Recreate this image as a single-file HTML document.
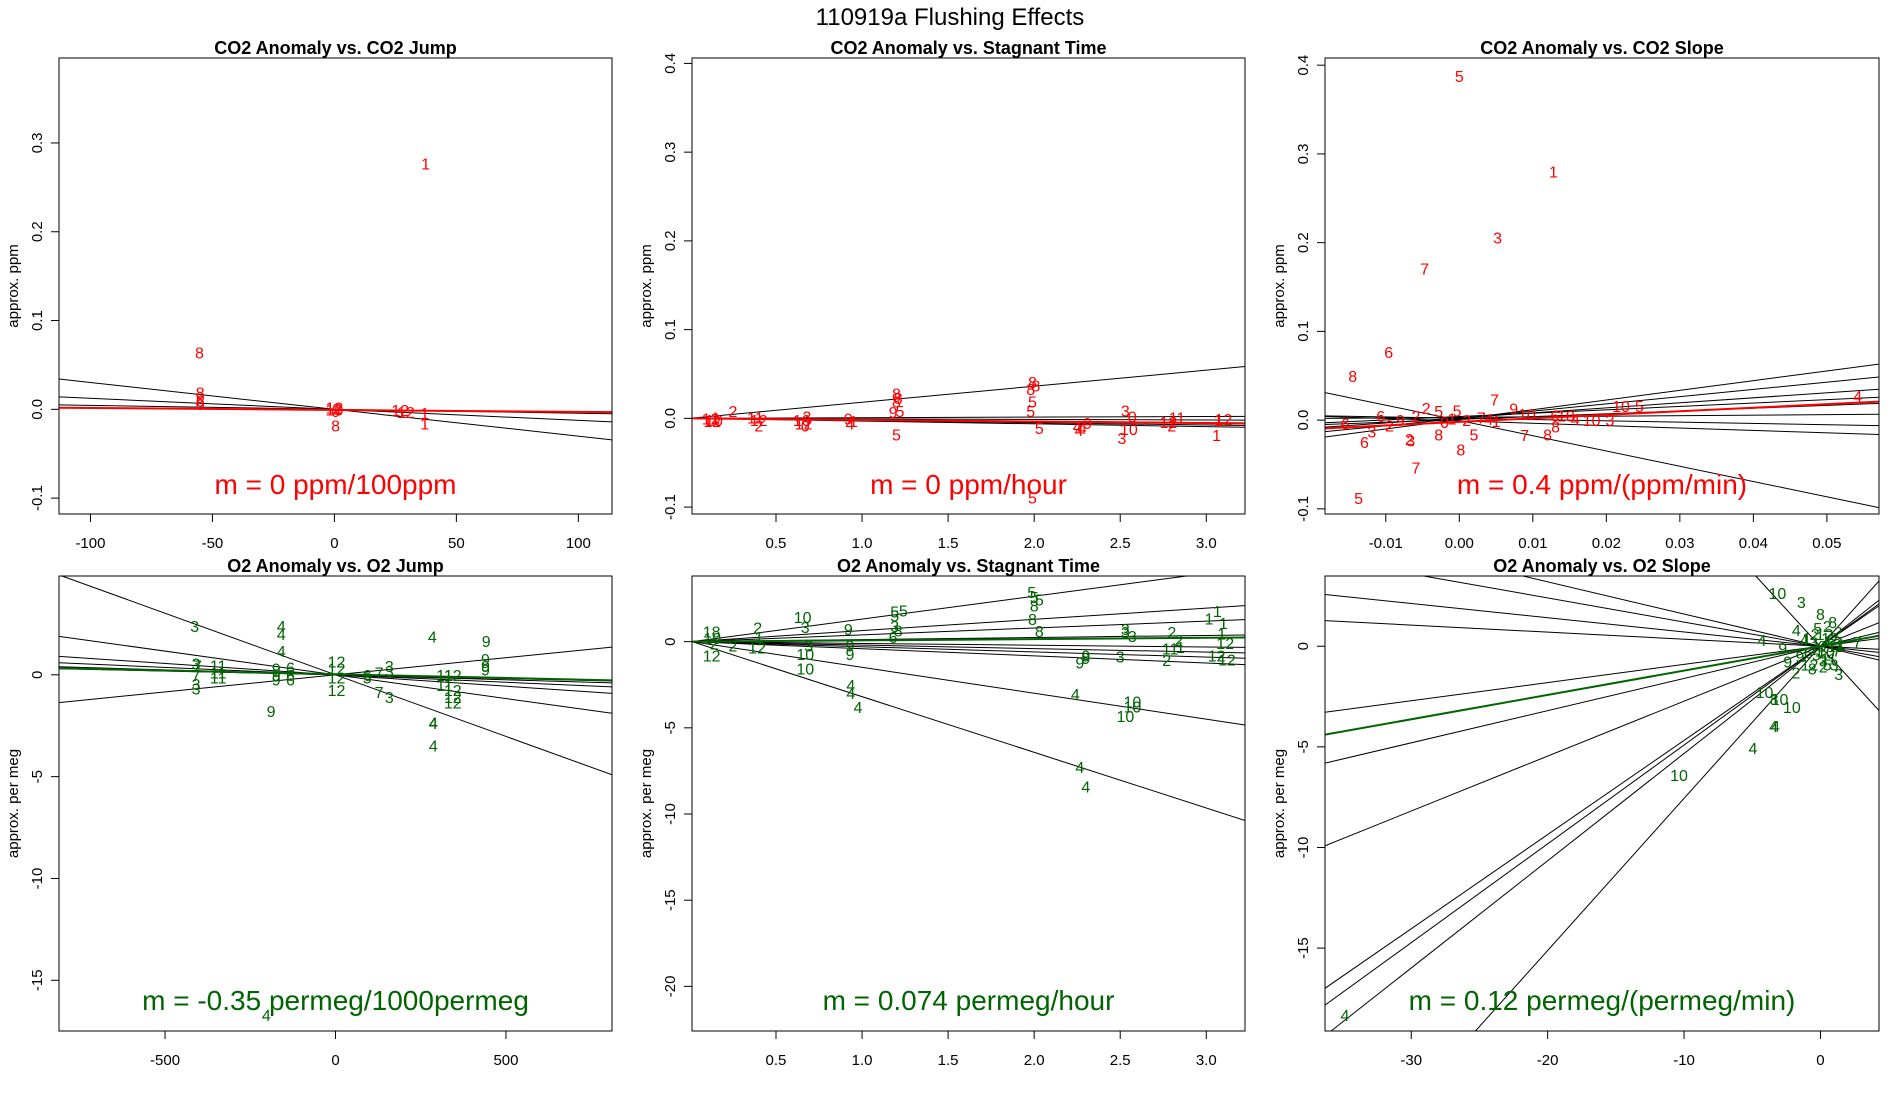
<!DOCTYPE html>
<html><head><meta charset="utf-8"><title>110919a Flushing Effects</title>
<style>
html,body{margin:0;padding:0;background:#fff;width:1900px;height:1100px;overflow:hidden;}
svg{display:block;font-family:"Liberation Sans",Arial,sans-serif;overflow:hidden;}
</style></head>
<body>
<svg id="chart" width="1900" height="1100" viewBox="0 0 1900 1100" xmlns="http://www.w3.org/2000/svg">
<rect x="0" y="0" width="1900" height="1100" fill="#fff"/>
<text x="950" y="25" font-size="24" text-anchor="middle">110919a   Flushing Effects</text>
</svg>
<script>
// ---------- Panel 1: CO2 Anomaly vs CO2 Jump ----------
const p1Labels = ["1","8","8","9","6","0","12","10","0","2","8","12","12","1","1"];
const p1X = [37.4,-55.3,-55,-55,-55,-55,0,0,0.5,1,0.5,27,29.3,37,37];
const p1Y = [0.277,0.064,0.019,0.014,0.010,0.006,0.002,0.0,-0.002,0.001,-0.0185,-0.001,-0.003,-0.004,-0.016];
const p1Slopes = [-0.000302,-0.000124,-0.000044];
const p1Intercepts = [0,0,0];
const p1Fit = [-0.0007,-0.000022];
const p1XTicks = [-100,-50,0,50,100];
const p1XTickLabels = ["-100","-50","0","50","100"];
const p1YTicks = [-0.1,0,0.1,0.2,0.3];
const p1YTickLabels = ["-0.1","0.0","0.1","0.2","0.3"];

// ---------- Panel 2: CO2 Anomaly vs Stagnant Time ----------
const p2Labels = ["12","10","1","12","2","11","12","2","10","12","3","0","9","4","1","8","8","8","5","9","5","8","8","8","5","5","5","5","4","4","9","4","3","0","10","3","11","2","12","1","12","1"];
const p2X = [0.12,0.14,0.15,0.13,0.25,0.38,0.40,0.40,0.65,0.66,0.68,0.67,0.92,0.93,0.95,1.20,1.21,1.20,1.22,1.18,1.20,1.99,2.01,1.98,1.99,2.03,1.98,1.99,2.25,2.28,2.31,2.26,2.53,2.57,2.55,2.51,2.83,2.80,2.78,3.07,3.10,3.06];
const p2Y = [0.0,-0.002,0.001,-0.003,0.008,0.001,-0.002,-0.008,-0.002,-0.006,0.002,-0.008,0.0,-0.006,-0.003,0.028,0.023,0.019,0.008,0.007,-0.018,0.041,0.037,0.033,0.019,-0.011,0.008,-0.089,-0.009,-0.011,-0.005,-0.013,0.009,0.002,-0.012,-0.022,0.001,-0.008,-0.004,-0.002,-0.001,-0.019];
const p2Slopes = [0.0181,0.0007,-0.0006,-0.0016,-0.0025,-0.0031];
const p2Intercepts = [0,0,0,0,0,0];
const p2Fit = [0,-0.0018];
const p2XTicks = [0.5,1.0,1.5,2.0,2.5,3.0];
const p2XTickLabels = ["0.5","1.0","1.5","2.0","2.5","3.0"];
const p2YTicks = [-0.1,0,0.1,0.2,0.3,0.4];
const p2YTickLabels = ["-0.1","0.0","0.1","0.2","0.3","0.4"];

// ---------- Panel 3: CO2 Anomaly vs CO2 Slope ----------
const p3Labels = ["5","1","3","7","6","8","7","10","5","4","7","5","8","6","2","3","8","8","7","6","3","2","9","2","6","5","5","1","0","2","7","1","10","6","10","4","10","3","8","9","4","2","5"];
const p3X = [0.0,0.0128,0.0052,-0.0047,-0.0096,-0.0145,0.0048,0.022,0.0245,0.0542,-0.0059,-0.0137,0.0002,-0.0129,-0.0068,-0.0066,-0.0028,0.012,0.0089,-0.0155,-0.0119,-0.0045,0.0074,-0.0059,-0.0107,-0.0028,-0.0003,-0.001,-0.002,0.001,0.003,0.005,0.0092,0.013,0.0145,0.0158,0.018,0.0205,0.0131,-0.008,0.004,-0.0095,0.002];
const p3Y = [0.388,0.280,0.206,0.171,0.077,0.050,0.023,0.016,0.016,0.027,-0.0535,-0.0877,-0.0333,-0.0245,-0.021,-0.023,-0.016,-0.016,-0.017,-0.004,-0.013,0.0137,0.013,0.0047,0.0047,0.010,0.011,0.002,-0.002,0.0,0.003,-0.001,0.007,0.005,0.005,0.001,0.0,0.0,-0.007,0.0,0.001,-0.006,-0.016];
const p3Slopes = [-1.721,1.089,0.817,0.566,0.381,0.316,0.062,-0.146,-0.269];
const p3Intercepts = [-0.0004,0.0009,0.0019,0.0025,0.004,0.0008,0.0031,0.0021,-0.0009];
const p3Fit = [-0.002,0.4];
const p3XTicks = [-0.01,0,0.01,0.02,0.03,0.04,0.05];
const p3XTickLabels = ["-0.01","0.00","0.01","0.02","0.03","0.04","0.05"];
const p3YTicks = [-0.1,0,0.1,0.2,0.3,0.4];
const p3YTickLabels = ["-0.1","0.0","0.1","0.2","0.3","0.4"];

// ---------- Panel 4: O2 Anomaly vs O2 Jump ----------
const p4Labels = ["3","4","4","4","4","9","9","9","9","3","7","7","3","3","11","11","11","9","9","9","6","6","6","12","12","12","12","6","5","7","7","3","3","3","4","4","4","11","11","12","12","12","12","9","4"];
const p4X = [-413,-159,-159,-159,284,442,440,440,440,-409,-405,-409,-409,-409,-344,-344,-344,-174,-174,-174,-132,-132,-132,3,3,3,3,93,93,128,128,158,158,158,287,287,287,320,320,344,344,344,344,-189,-203];
const p4Y = [2.40,2.40,2.01,1.17,1.87,1.66,0.78,0.43,0.26,0.56,0.47,-0.02,-0.46,-0.67,0.47,0.12,-0.14,0.30,-0.02,-0.23,0.35,0.0,-0.23,0.65,0.30,-0.14,-0.75,0.0,-0.14,0.12,-0.84,0.44,0.2,-1.1,-2.33,-2.37,-3.47,0.0,-0.49,-0.02,-0.75,-1.1,-1.37,-1.77,-16.7];
const p4Slopes = [-0.00605,-0.00233,-0.00112,-0.00073,-0.00049,-0.00037,0.00168];
const p4Intercepts = [0,0,0,0,0,0,0];
const p4Fit = [0.03,-0.00037];
const p4XTicks = [-500,0,500];
const p4XTickLabels = ["-500","0","500"];
const p4YTicks = [-15,-10,-5,0];
const p4YTickLabels = ["-15","-10","-5","0"];

// ---------- Panel 5: O2 Anomaly vs Stagnant Time ----------
const p5Labels = ["5","5","5","8","8","8","5","5","5","3","8","6","10","3","9","9","9","10","10","3","2","1","12","18","10","2","12","2","4","4","4","4","4","4","10","10","10","9","9","9","3","3","3","3","2","2","1","11","2","1","1","1","1","12","12","12"];
const p5X = [1.986,2.0,2.03,2.0,1.99,2.03,1.19,1.19,1.24,1.19,1.21,1.18,0.655,0.67,0.92,0.93,0.93,0.67,0.67,0.69,0.394,0.40,0.39,0.126,0.13,0.14,0.126,0.25,0.935,0.935,0.976,2.239,2.265,2.30,2.571,2.571,2.53,2.3,2.3,2.265,2.53,2.53,2.57,2.50,2.80,2.84,2.85,2.79,2.77,3.064,3.016,3.10,3.09,3.11,3.06,3.12];
const p5Y = [2.88,2.6,2.44,2.1,1.31,0.63,1.74,1.53,1.8,0.90,0.65,0.28,1.43,0.85,0.74,-0.23,-0.71,-0.71,-1.57,-0.23,0.81,0.28,-0.33,0.6,0.2,-0.1,-0.79,-0.23,-2.51,-2.99,-3.80,-3.03,-7.27,-8.41,-3.48,-3.75,-4.31,-0.79,-0.96,-1.2,0.73,0.57,0.33,-0.85,0.57,0.09,-0.31,-0.39,-1.07,1.78,1.33,1.08,0.46,-0.08,-0.79,-1.03];
const p5Slopes = [1.326,0.651,0.399,0.121,-0.103,-0.202,-0.299,-0.414,-1.505,-3.23];
const p5Intercepts = [-0.016,-0.008,-0.005,-0.001,0.001,0.002,0.004,0.005,0.018,0.039];
const p5Fit = [0,0.074];
const p5XTicks = [0.5,1.0,1.5,2.0,2.5,3.0];
const p5XTickLabels = ["0.5","1.0","1.5","2.0","2.5","3.0"];
const p5YTicks = [-20,-15,-10,-5,0];
const p5YTickLabels = ["-20","-15","-10","-5","0"];

// ---------- Panel 6: O2 Anomaly vs O2 Slope ----------
const p6Labels = ["10","3","4","4","9","9","2","7","3","10","8","10","10","4","4","4","10","4","8","2","12","1","3","6","5","11","7","2","12","3","9","6","1","4","10","5","8","2","8","3","1","12","6","11","2","5"];
const p6X = [-3.16,-1.4,-4.29,-1.77,-2.77,-2.4,-1.8,2.7,1.34,-4.1,-3.4,-3.0,-2.1,-3.44,-3.3,-4.95,-10.37,-34.86,0.0,0.5,0.3,-1.0,-0.5,0.8,-0.3,0.6,1.2,0.2,-0.8,1.0,-1.5,0.1,1.5,-1.2,0.4,-0.2,-0.6,1.3,0.9,0.2,-0.1,0.7,-0.9,1.1,-0.4,0.5];
const p6Y = [2.64,2.21,0.30,0.8,-0.1,-0.76,-1.3,0.21,-1.38,-2.27,-2.63,-2.63,-3.02,-3.96,-3.96,-5.06,-6.4,-18.32,1.6,1.0,0.6,0.4,0.2,0.3,-0.4,-0.6,-0.2,-1.0,-0.9,-0.9,-0.5,0.0,0.1,0.3,-0.3,0.9,-1.1,0.7,1.2,-0.7,-0.2,0.4,-0.3,0.0,0.6,-0.9];
const p6Slopes = [-0.74,-0.12,-0.16,-0.0708,-0.035,0.0903,0.160,0.273,0.468,0.491,0.533,0.756];
const p6Intercepts = [-0.02,0,0,0,0,0,0,0,0,0,0,0];
const p6Fit = [0,0.121];
const p6XTicks = [-30,-20,-10,0];
const p6XTickLabels = ["-30","-20","-10","0"];
const p6YTicks = [-15,-10,-5,0];
const p6YTickLabels = ["-15","-10","-5","0"];

const NS = "http://www.w3.org/2000/svg";
const svg = document.getElementById("chart");
function mk(tag, attrs, parent) {
  const e = document.createElementNS(NS, tag);
  for (const k in attrs) e.setAttribute(k, attrs[k]);
  (parent || svg).appendChild(e);
  return e;
}

// clip line y=b+m*x to the domain rectangle; returns [x0,y0,x1,y1] in data units
function clipLine(b, m, xd, yd) {
  let x0 = xd[0], x1 = xd[1];
  if (m !== 0) {
    let xa = (yd[0] - b) / m, xb = (yd[1] - b) / m;
    const lo = Math.min(xa, xb), hi = Math.max(xa, xb);
    x0 = Math.max(x0, lo); x1 = Math.min(x1, hi);
  }
  if (x1 <= x0) return null;
  return [x0, b + m * x0, x1, b + m * x1];
}

function drawPanel(cfg) {
  const g = mk("g", {});
  
  
  const L = cfg.box[0], R = cfg.box[1], T = cfg.box[2], B = cfg.box[3];
  const sx = v => L + (v - cfg.xd[0]) / (cfg.xd[1] - cfg.xd[0]) * (R - L);
  const sy = v => B - (v - cfg.yd[0]) / (cfg.yd[1] - cfg.yd[0]) * (B - T);
  const clipId = cfg.name + "-clip";
  const defs = mk("defs", {}, g);
  const cp = mk("clipPath", {id: clipId}, defs);
  mk("rect", {x: L, y: T, width: R - L, height: B - T}, cp);

  const t = mk("text", {x: (L + R) / 2, y: T - 4, "font-size": 18, "font-weight": "bold", "text-anchor": "middle"}, g);
  t.textContent = cfg.title;
  
  

  const yl = mk("text", {x: 0, y: 0, "font-size": 15, "text-anchor": "middle", transform: "translate(" + (L - 41) + "," + ((T + B) / 2) + ") rotate(-90)"}, g);
  yl.textContent = cfg.ylabel;
  
  

  const xa = mk("g", {}, g);
  
  
  cfg.xt.forEach((v, i) => {
    const x = sx(v);
    mk("line", {x1: x, x2: x, y1: B, y2: B + 8, stroke: "#000", "stroke-width": 1}, xa);
    const tl = mk("text", {x: x, y: B + 34, "font-size": 15, "text-anchor": "middle"}, xa);
    tl.textContent = cfg.xtl[i];
    
    
  });
  const ya = mk("g", {}, g);
  
  
  cfg.yt.forEach((v, i) => {
    const y = sy(v);
    mk("line", {x1: L - 8, x2: L, y1: y, y2: y, stroke: "#000", "stroke-width": 1}, ya);
    const tl = mk("text", {x: 0, y: 0, "font-size": 15, "text-anchor": "middle", transform: "translate(" + (L - 17) + "," + y + ") rotate(-90)"}, ya);
    tl.textContent = cfg.ytl[i];
    
    
  });

  const lg = mk("g", {"clip-path": "url(#" + clipId + ")"}, g);
  
  
  cfg.slopes.forEach((m, i) => {
    const c = clipLine(cfg.ints[i], m, cfg.xd, cfg.yd);
    if (!c) return;
    const ln = mk("line", {x1: sx(c[0]), y1: sy(c[1]), x2: sx(c[2]), y2: sy(c[3]), stroke: "#000", "stroke-width": 1}, lg);
    
    
  });
  const pg = mk("g", {"clip-path": "url(#" + clipId + ")"}, g);
  
  
  cfg.lab.forEach((s, i) => {
    const p = mk("text", {x: sx(cfg.px[i]), y: sy(cfg.py[i]) + 6, "font-size": 16, "text-anchor": "middle", fill: cfg.color}, pg);
    p.textContent = s;
    
    
  });
  const fc = clipLine(cfg.fit[0], cfg.fit[1], cfg.xd, cfg.yd);
  if (fc) {
    const fl = mk("line", {x1: sx(fc[0]), y1: sy(fc[1]), x2: sx(fc[2]), y2: sy(fc[3]), stroke: cfg.color, "stroke-width": 2, "clip-path": "url(#" + clipId + ")"}, g);
    
    
  }
  const bx = mk("rect", {x: L, y: T, width: R - L, height: B - T, fill: "none", stroke: "#000", "stroke-width": 1}, g);
  
  
  const mt = mk("text", {x: (L + R) / 2, y: cfg.mY, "font-size": 28, "text-anchor": "middle", fill: cfg.color}, g);
  mt.textContent = cfg.mText;
  
  
}

const RED = "#ff0000", GREEN = "#006400";
drawPanel({name: "panel-co2-jump", title: "CO2 Anomaly vs. CO2 Jump", ylabel: "approx. ppm", color: RED,
  box: [59, 612, 58, 514], xd: [-112.9, 113.8], yd: [-0.1179, 0.3957],
  xt: p1XTicks, xtl: p1XTickLabels, yt: p1YTicks, ytl: p1YTickLabels,
  slopes: p1Slopes, ints: p1Intercepts, fit: p1Fit, lab: p1Labels, px: p1X, py: p1Y,
  mText: "m = 0 ppm/100ppm", mY: 494});
drawPanel({name: "panel-co2-stagnant", title: "CO2 Anomaly vs. Stagnant Time", ylabel: "approx. ppm", color: RED,
  box: [692, 1245, 58, 514], xd: [0.012, 3.225], yd: [-0.1078, 0.4061],
  xt: p2XTicks, xtl: p2XTickLabels, yt: p2YTicks, ytl: p2YTickLabels,
  slopes: p2Slopes, ints: p2Intercepts, fit: p2Fit, lab: p2Labels, px: p2X, py: p2Y,
  mText: "m = 0 ppm/hour", mY: 494});
drawPanel({name: "panel-co2-slope", title: "CO2 Anomaly vs. CO2 Slope", ylabel: "approx. ppm", color: RED,
  box: [1325, 1879, 58, 514], xd: [-0.01827, 0.05709], yd: [-0.1058, 0.4081],
  xt: p3XTicks, xtl: p3XTickLabels, yt: p3YTicks, ytl: p3YTickLabels,
  slopes: p3Slopes, ints: p3Intercepts, fit: p3Fit, lab: p3Labels, px: p3X, py: p3Y,
  mText: "m = 0.4 ppm/(ppm/min)", mY: 494});
drawPanel({name: "panel-o2-jump", title: "O2 Anomaly vs. O2 Jump", ylabel: "approx. per meg", color: GREEN,
  box: [59, 612, 576, 1031], xd: [-811, 811], yd: [-17.49, 4.853],
  xt: p4XTicks, xtl: p4XTickLabels, yt: p4YTicks, ytl: p4YTickLabels,
  slopes: p4Slopes, ints: p4Intercepts, fit: p4Fit, lab: p4Labels, px: p4X, py: p4Y,
  mText: "m = -0.35 permeg/1000permeg", mY: 1010});
drawPanel({name: "panel-o2-stagnant", title: "O2 Anomaly vs. Stagnant Time", ylabel: "approx. per meg", color: GREEN,
  box: [692, 1245, 576, 1031], xd: [0.012, 3.225], yd: [-22.59, 3.81],
  xt: p5XTicks, xtl: p5XTickLabels, yt: p5YTicks, ytl: p5YTickLabels,
  slopes: p5Slopes, ints: p5Intercepts, fit: p5Fit, lab: p5Labels, px: p5X, py: p5Y,
  mText: "m = 0.074 permeg/hour", mY: 1010});
drawPanel({name: "panel-o2-slope", title: "O2 Anomaly vs. O2 Slope", ylabel: "approx. per meg", color: GREEN,
  box: [1325, 1879, 576, 1031], xd: [-36.32, 4.29], yd: [-19.12, 3.49],
  xt: p6XTicks, xtl: p6XTickLabels, yt: p6YTicks, ytl: p6YTickLabels,
  slopes: p6Slopes, ints: p6Intercepts, fit: p6Fit, lab: p6Labels, px: p6X, py: p6Y,
  mText: "m = 0.12 permeg/(permeg/min)", mY: 1010});
</script>
</body></html>
